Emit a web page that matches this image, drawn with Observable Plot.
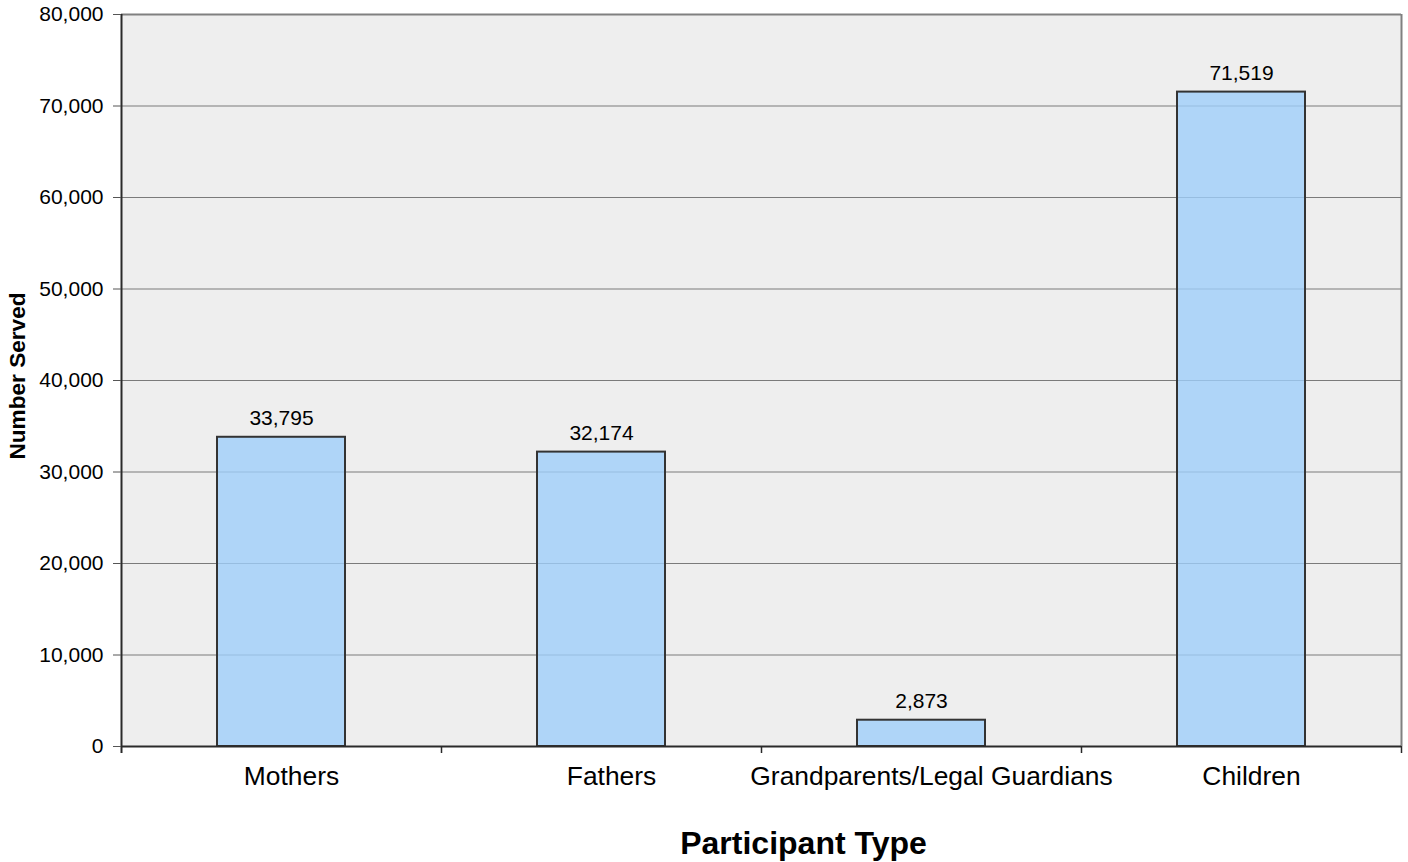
<!DOCTYPE html>
<html>
<head>
<meta charset="utf-8">
<script src="https://cdn.jsdelivr.net/npm/d3@7"></script>
<script src="https://cdn.jsdelivr.net/npm/@observablehq/plot@0.6"></script>
<style>
  html, body { margin: 0; padding: 0; background: #ffffff; }
  #chart svg { display: block; }
</style>
</head>
<body>
<div id="chart"></div>
<script>
const categories = ["Mothers", "Fathers", "Grandparents/Legal Guardians", "Children"];
const served = [33795, 32174, 2873, 71519];
const yTicks = [0, 10000, 20000, 30000, 40000, 50000, 60000, 70000, 80000];
const xTitle = "Participant Type";
const yTitle = "Number Served";

const data = categories.map((c, i) => ({category: c, value: served[i]}));
const fmt = d3.format(",");
const half = 160; // half of a category step

const chart = Plot.plot({
  width: 1408,
  height: 862,
  marginLeft: 121,
  marginRight: 7,
  marginTop: 14,
  marginBottom: 116,
  style: {fontFamily: "'Liberation Sans', Arial, sans-serif", background: "#ffffff", color: "#000"},
  x: {domain: categories, paddingInner: 0.6, paddingOuter: 0.3, label: null},
  y: {domain: [0, 80000], label: null},
  marks: [
    Plot.frame({fill: "#eeeeee", stroke: "none"}),
    Plot.ruleY(yTicks.filter(t => t > 0 && t < 80000), {stroke: "#7a7a7a", strokeWidth: 1.2}),
    Plot.barY(data, {x: "category", y: "value", fill: "rgb(159,206,250)", fillOpacity: 0.8, stroke: "#333333", strokeWidth: 2}),
    Plot.text(data, {x: "category", y: "value", text: d => fmt(d.value), dy: -12, lineAnchor: "bottom", fontSize: 21, fill: "#000"}),
    // top and right borders
    Plot.ruleY([80000], {stroke: "#808080", strokeWidth: 2}),
    Plot.ruleX([categories[categories.length - 1]], {x: d => d, dx: half, stroke: "#808080", strokeWidth: 2}),
    // left axis line and bottom axis line
    Plot.ruleX([categories[0]], {x: d => d, dx: -half, stroke: "#2a2a2a", strokeWidth: 2, insetBottom: -7}),
    Plot.ruleY([0], {stroke: "#2a2a2a", strokeWidth: 2}),
    // boundary ticks on x axis
    Plot.ruleX(categories.slice(1), {x: d => d, dx: -half, y1: 0, y2: 0, insetBottom: -7, stroke: "#2a2a2a", strokeWidth: 1.5}),
    Plot.ruleX([categories[categories.length - 1]], {x: d => d, dx: half, y1: 0, y2: 0, insetBottom: -7, stroke: "#2a2a2a", strokeWidth: 1.5}),
    Plot.axisY({ticks: yTicks, tickFormat: d3.format(","), tickSize: 8, tickPadding: 10, fontSize: 21, stroke: "#555", fill: "#000", label: null}),
    Plot.axisX({tickSize: 0, tickPadding: 20, dx: 10, fontSize: 26.4, fill: "#000", label: null}),
    Plot.text([xTitle], {frameAnchor: "bottom", dx: 42, dy: 97, textAnchor: "middle", lineAnchor: "middle", fontSize: 32, fontWeight: "bold", fill: "#000"}),
    Plot.text([yTitle], {frameAnchor: "left", dx: -103.5, dy: -4.5, rotate: -90, textAnchor: "middle", lineAnchor: "middle", fontSize: 22.6, fontWeight: "bold", fill: "#000"})
  ]
});
document.getElementById("chart").appendChild(chart);
</script>
</body>
</html>
